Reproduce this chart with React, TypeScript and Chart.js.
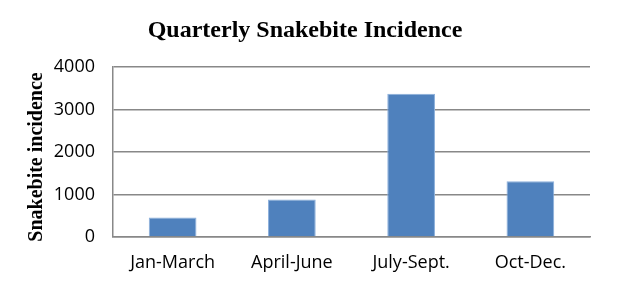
import React, { useEffect, useRef } from "react";
import { Chart, registerables } from "chart.js";

Chart.register(...registerables);

const categories = ["Jan-March", "April-June", "July-Sept.", "Oct-Dec."];
const incidence = [460, 880, 3370, 1310];
const yTicks = [0, 1000, 2000, 3000, 4000];

export default function App() {
  const ref = useRef<HTMLCanvasElement | null>(null);

  useEffect(() => {
    document.body.style.margin = "0";
    const canvas = ref.current;
    if (!canvas) return;
    const chart = new Chart(canvas, {
      type: "bar",
      data: {
        labels: categories,
        datasets: [
          {
            data: incidence,
            backgroundColor: "#4F81BD",
            borderColor: "#8CB0DC",
            borderWidth: 1,
            categoryPercentage: 1,
            barPercentage: 0.4,
          },
        ],
      },
      options: {
        animation: false,
        responsive: false,
        layout: { padding: { left: 20, right: 28, top: 0, bottom: 0 } },
        plugins: {
          legend: { display: false },
          tooltip: { enabled: false },
          title: {
            display: true,
            text: "Quarterly Snakebite Incidence",
            color: "#000",
            font: { family: "'Liberation Serif', 'Times New Roman', serif", size: 24, weight: "bold", lineHeight: 1.2 },
            padding: { top: 16.6, bottom: 21.6 },
          },
        },
        scales: {
          x: {
            grid: { display: false, drawTicks: false },
            border: { display: true, color: "#888888", width: 1.5 },
            ticks: {
              color: "#000",
              padding: 15,
              font: { family: "'Open Sans', sans-serif", size: 18, lineHeight: 1.2 },
            },
            afterFit: (s: any) => {
              s.height = 57;
            },
          },
          y: {
            min: 0,
            max: 4000,
            afterBuildTicks: (s: any) => {
              s.ticks = yTicks.map((v) => ({ value: v }));
            },
            grid: { color: "#888888", lineWidth: 1.5, drawTicks: false },
            border: { display: true, color: "#888888", width: 1.5 },
            ticks: {
              color: "#000",
              padding: 18,
              font: { family: "'Open Sans', sans-serif", size: 18, lineHeight: 1.2 },
              callback: (v: any) => String(v),
            },
            title: {
              display: true,
              text: "Snakebite incidence  ",
              color: "#000",
              font: { family: "'Liberation Serif', 'Times New Roman', serif", size: 20, weight: "bold", lineHeight: 1.2 },
              padding: { top: 5, bottom: 0 },
            },
            afterFit: (s: any) => {
              s.width = 93;
            },
          },
        },
      },
    });
    return () => chart.destroy();
  }, []);

  return (
    <div style={{ width: 618, height: 294, background: "#fff" }}>
      <canvas ref={ref} width={618} height={294} style={{ display: "block" }} />
    </div>
  );
}
